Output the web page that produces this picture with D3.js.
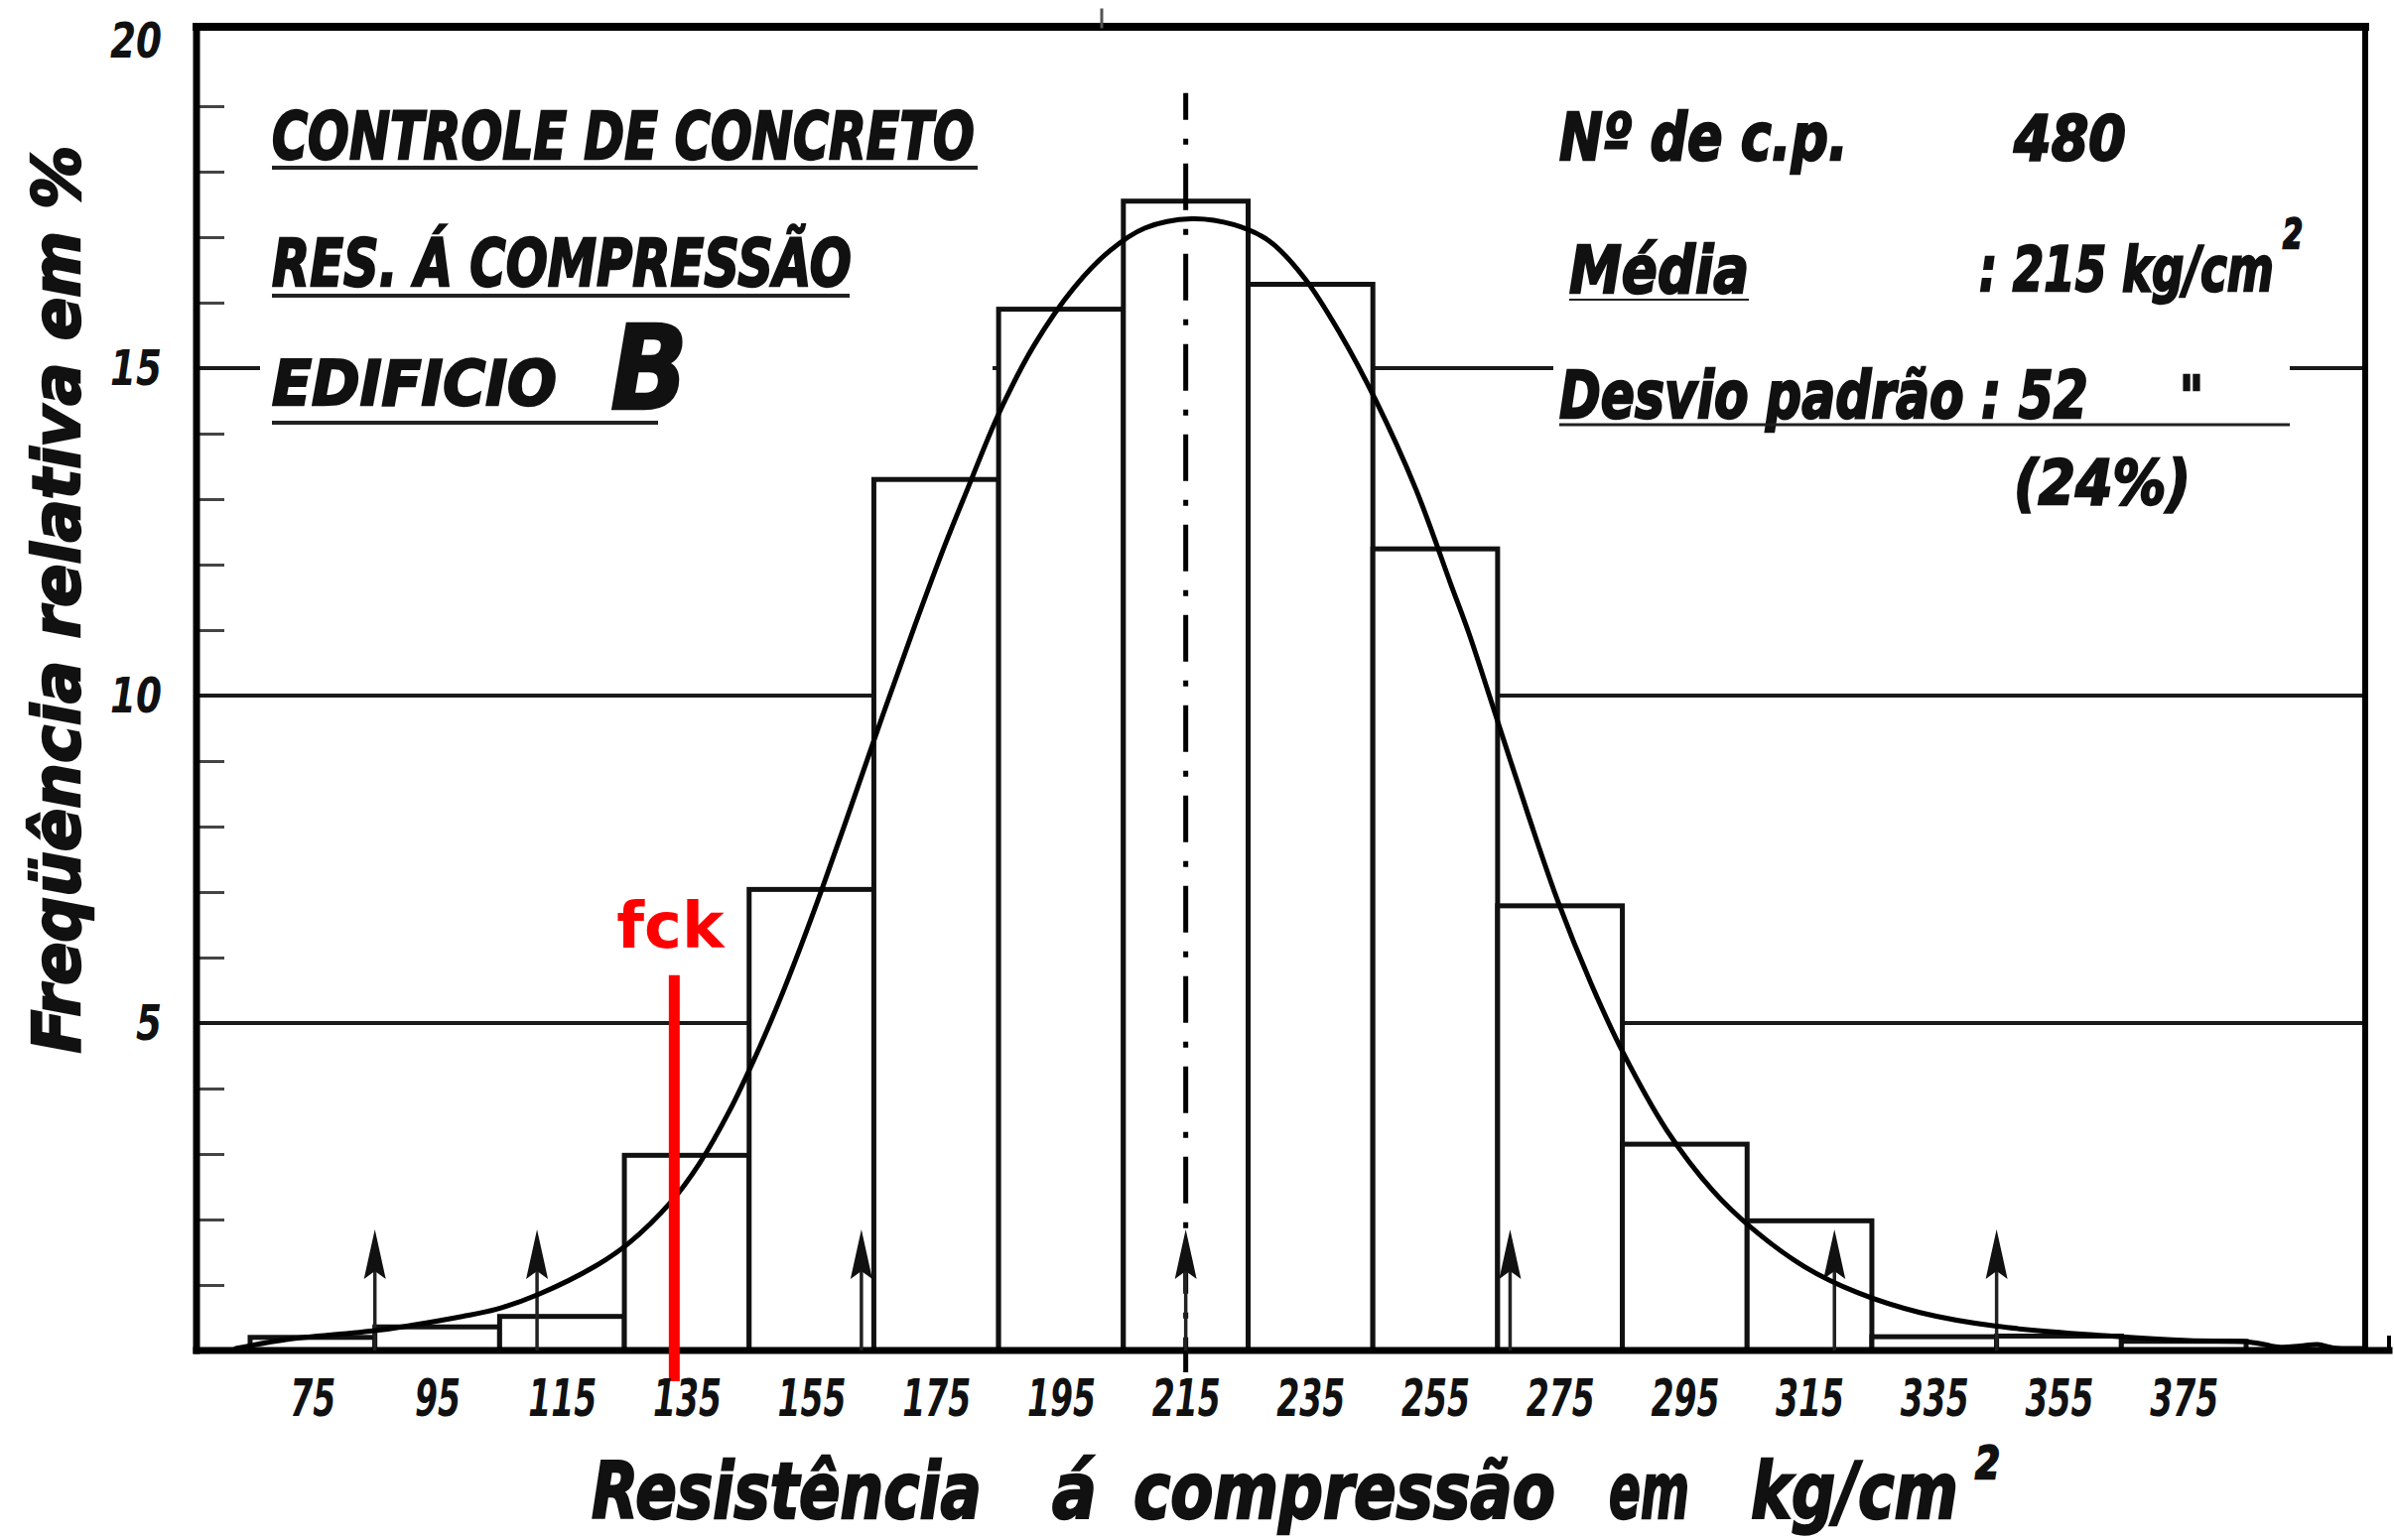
<!DOCTYPE html>
<html>
<head>
<meta charset="utf-8">
<script src="https://cdnjs.cloudflare.com/ajax/libs/d3/7.8.5/d3.min.js"></script>
<style>
  html, body { margin: 0; padding: 0; background: #fff; }
  svg { display: block; }
  .hand { font-family: "DejaVu Sans", "Liberation Sans", sans-serif; font-style: oblique; font-weight: bold; fill: #111; }
  .heavy { stroke: #111; stroke-width: 2.4; }
</style>
</head>
<body>
<svg id="chart"></svg>
<script>
const width = 2412;
const height = 1552;

// classes of 20 kg/cm2 (centre value) and relative frequency in %
const classCenters = [75, 95, 115, 135, 155, 175, 195, 215, 235, 255, 275, 295, 315, 335, 355, 375];
const classFreq = [0.2, 0.36, 0.52, 2.98, 7.04, 13.3, 15.9, 17.55, 16.28, 12.24, 6.79, 3.15, 1.98, 0.21, 0.22, 0.14];
const classWidth = 20;

// hand drawn normal curve
const curveX = [62.7, 71, 85.6, 99, 104.5, 111.3, 120.2, 125.6, 132.5, 137, 141.8, 146.3, 149.9, 153.2, 156.7,
    161.5, 166.5, 171.5, 176.4, 180, 185, 190.7, 197.1, 202.8, 208.5, 215.9, 222.7, 228.4, 234, 239.8, 245.4,
    251.9, 257.5, 260.4, 265.2, 270, 274.7, 280, 285.1, 292.2, 299.5, 305.6, 314.2, 322.8, 332.7, 345, 363.4,
    375.8, 385.5, 390.5, 393.7, 396.5, 399, 404];
const curveY = [0.03, 0.17, 0.31, 0.52, 0.63, 0.86, 1.28, 1.63, 2.27, 2.85, 3.65, 4.55, 5.35, 6.15, 7.05,
    8.35, 9.72, 11.05, 12.3, 13.15, 14.3, 15.35, 16.23, 16.79, 17.14, 17.28, 17.19, 16.94, 16.38, 15.52, 14.52,
    13.15, 11.7, 10.95, 9.55, 8.15, 6.85, 5.6, 4.55, 3.35, 2.44, 1.88, 1.28, 0.88, 0.58, 0.37, 0.22,
    0.15, 0.13, 0.05, 0.07, 0.09, 0.04, 0.03];

// mean and mean +/- k * sigma arrows, fck
const mean = 215;
const sigmaMarks = [85, 111, 163, 215, 267, 319, 345];
const fck = 133;

const yMajor = [5, 10, 15, 20];
const yMinor = d3.range(1, 20).filter(v => v % 5 !== 0);

const frame = { left: 198, right: 2383, top: 27, bottom: 1361 };

const x = d3.scaleLinear().domain([65, 385]).range([252, 2263]);
const y = d3.scaleLinear().domain([0, 20]).range([1361, 41]);

const svg = d3.select("#chart")
    .attr("width", width)
    .attr("height", height)
    .attr("viewBox", `0 0 ${width} ${height}`);

// grid lines at 5, 10, 15
svg.append("g")
    .selectAll("line")
    .data(yMajor.filter(v => v < 20))
    .enter()
    .append("line")
    .attr("x1", frame.left)
    .attr("x2", frame.right)
    .attr("y1", d => y(d))
    .attr("y2", d => y(d))
    .attr("stroke", "#1a1a1a")
    .attr("stroke-width", 4);

// minor ticks
svg.append("g")
    .attr("transform", `translate(${frame.left},0)`)
    .call(d3.axisRight(y).tickValues(yMinor).tickSize(28).tickFormat(""))
    .call(g => g.select(".domain").remove())
    .call(g => g.selectAll("line").attr("stroke", "#444").attr("stroke-width", 3));

// white panels behind the annotations (they mask the grid)
svg.append("rect").attr("x", 262).attr("y", 60).attr("width", 738).attr("height", 380).attr("fill", "#fff");
svg.append("rect").attr("x", 1565).attr("y", 80).attr("width", 742).attr("height", 460).attr("fill", "#fff");

// bars
svg.append("g")
    .selectAll("rect")
    .data(classCenters)
    .enter()
    .append("rect")
    .attr("x", d => x(d - classWidth / 2))
    .attr("width", d => x(d + classWidth / 2) - x(d - classWidth / 2))
    .attr("y", (d, i) => y(classFreq[i]))
    .attr("height", (d, i) => y(0) - y(classFreq[i]))
    .attr("fill", "#fff")
    .attr("stroke", "#111")
    .attr("stroke-width", 5);

// frame
const frameG = svg.append("g").attr("stroke", "#000").attr("stroke-linecap", "square");
frameG.append("line").attr("x1", frame.left).attr("x2", frame.right).attr("y1", frame.top).attr("y2", frame.top).attr("stroke-width", 8);
frameG.append("line").attr("x1", frame.left).attr("x2", frame.left).attr("y1", frame.top).attr("y2", frame.bottom).attr("stroke-width", 7);
frameG.append("line").attr("x1", frame.right).attr("x2", frame.right).attr("y1", frame.top).attr("y2", frame.bottom).attr("stroke-width", 6);
frameG.append("line").attr("x1", frame.left).attr("x2", 2407).attr("y1", frame.bottom).attr("y2", frame.bottom).attr("stroke-width", 7);
frameG.append("line").attr("x1", 2407).attr("x2", 2407).attr("y1", frame.bottom).attr("y2", frame.bottom - 13).attr("stroke-width", 4);
frameG.append("line").attr("x1", 1110).attr("x2", 1110).attr("y1", 10).attr("y2", frame.top).attr("stroke-width", 3).attr("stroke", "#555");

// mean line (dash-dot)
svg.append("line")
    .attr("x1", x(mean)).attr("x2", x(mean))
    .attr("y1", y(19.2)).attr("y2", y(0) + 22)
    .attr("stroke", "#000")
    .attr("stroke-width", 5)
    .attr("stroke-dasharray", "47 19 6 19")
    .attr("stroke-dashoffset", 20);

// arrows at mean +/- k sigma
const arrowTop = 1.85;
const arrows = svg.append("g").selectAll("g").data(sigmaMarks).enter().append("g");
arrows.append("line")
    .attr("x1", d => x(d)).attr("x2", d => x(d))
    .attr("y1", y(0)).attr("y2", y(arrowTop) + 10)
    .attr("stroke", "#222")
    .attr("stroke-width", 3.5);
arrows.append("path")
    .attr("d", d => {
        const cx = x(d), top = y(arrowTop);
        return `M${cx},${top} L${cx + 11},${top + 50} L${cx},${top + 42} L${cx - 11},${top + 50} Z`;
    })
    .attr("fill", "#111");

// normal curve
svg.append("path")
    .datum(curveX.map((v, i) => [v, curveY[i]]))
    .attr("fill", "none")
    .attr("stroke", "#000")
    .attr("stroke-width", 5)
    .attr("stroke-linejoin", "round")
    .attr("stroke-linecap", "round")
    .attr("d", d3.line().x(d => x(d[0])).y(d => y(d[1])).curve(d3.curveCatmullRom.alpha(0.5)));

// fck
svg.append("line")
    .attr("x1", x(fck)).attr("x2", x(fck))
    .attr("y1", y(5.73)).attr("y2", y(0) + 31)
    .attr("stroke", "#ff0000")
    .attr("stroke-width", 11);
svg.append("text")
    .attr("x", x(fck) - 4)
    .attr("y", 955)
    .attr("text-anchor", "middle")
    .attr("font-family", "'DejaVu Sans', sans-serif")
    .attr("font-weight", "bold")
    .attr("font-size", 64)
    .attr("fill", "#ff0000")
    .text("fck");

// y axis labels
svg.append("g")
    .attr("transform", `translate(${frame.left},0)`)
    .call(d3.axisLeft(y).tickValues(yMajor).tickSize(0).tickPadding(35))
    .call(g => g.select(".domain").remove())
    .call(g => g.selectAll("text")
        .attr("class", "hand")
        .attr("font-size", 50)
        .attr("textLength", d => String(d).length * 26)
        .attr("lengthAdjust", "spacingAndGlyphs"));

// x axis labels
svg.append("g")
    .attr("transform", `translate(0,1390)`)
    .call(d3.axisBottom(x).tickValues(classCenters).tickSize(0).tickPadding(0))
    .call(g => g.select(".domain").remove())
    .call(g => g.selectAll("text")
        .attr("class", "hand")
        .attr("font-size", 52)
        .attr("y", 37)
        .attr("dy", null)
        .attr("textLength", d => String(d).length * 23)
        .attr("lengthAdjust", "spacingAndGlyphs"));

// hand lettering: squeeze the text horizontally to the width it has in the drawing
function hand(txt, px, py, size, len, heavy) {
    const t = svg.append("text")
        .attr("class", heavy ? "hand heavy" : "hand")
        .attr("font-size", size)
        .text(txt);
    const w = t.node().getComputedTextLength() || len;
    t.attr("transform", `translate(${px},${py}) scale(${len / w},1)`);
    return t;
}
function rule(x1, x2, yy, w) {
    svg.append("line").attr("x1", x1).attr("x2", x2).attr("y1", yy).attr("y2", yy)
        .attr("stroke", "#222").attr("stroke-width", w);
}

// title block
hand("CONTROLE DE CONCRETO", 274, 160, 66, 708, true);
rule(274, 985, 169, 4);
hand("RES. Á COMPRESSÃO", 274, 288, 66, 584, true);
rule(274, 856, 298, 4);
hand("EDIFICIO", 274, 408, 62, 287, true);
hand("B", 615, 412, 118, 78, true);
rule(274, 663, 426, 4);

// statistics block
hand("Nº de c.p.", 1571, 161, 66, 291, true);
hand("480", 2029, 161, 62, 113, true);
hand("Média", 1581, 295, 66, 181, true);
rule(1581, 1762, 302, 2);
hand(": 215 kg/cm", 1994, 293, 62, 297, true);
hand("2", 2300, 250, 40, 20, true);
hand("Desvio padrão : 52", 1571, 421, 66, 533, true);
hand("\"", 2196, 418, 56, 24, true);
rule(1571, 2307, 428, 3);
hand("(24%)", 2029, 508, 62, 178, true);

// axis titles
const yTitle = svg.append("text")
    .attr("class", "hand heavy")
    .attr("text-anchor", "middle")
    .attr("font-size", 66)
    .text("Freqüência relativa em %");
const yTitleW = yTitle.node().getComputedTextLength() || 915;
yTitle.attr("transform", `translate(80,604) rotate(-90) scale(${915 / yTitleW},1)`);

hand("Resistência", 596, 1530, 78, 393, true);
hand("á", 1060, 1530, 78, 45, true);
hand("compressão", 1142, 1530, 78, 425, true);
hand("em", 1621, 1530, 78, 81, true);
hand("kg/cm", 1764, 1530, 78, 209, true);
hand("2", 1990, 1490, 44, 25, true);
</script>
</body>
</html>
